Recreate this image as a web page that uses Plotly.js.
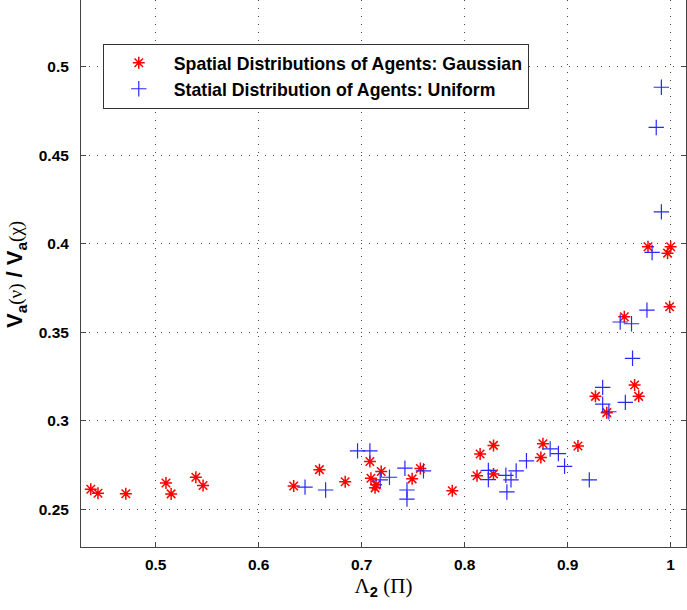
<!DOCTYPE html>
<html>
<head>
<meta charset="utf-8">
<script src="https://cdn.plot.ly/plotly-3.0.1.min.js"></script>
<style>html,body{margin:0;padding:0;background:#fff;}#plot{width:687px;height:610px;}</style>
</head>
<body>
<div id="plot"></div>
<script>
// Gaussian spatial distribution (red asterisks)
const gaussX = [0.437, 0.444, 0.471, 0.510, 0.515, 0.539, 0.546, 0.634, 0.659, 0.684, 0.708, 0.709, 0.714, 0.713, 0.719, 0.749, 0.757, 0.788, 0.815, 0.812, 0.828, 0.828, 0.876, 0.874, 0.910, 0.927, 0.938, 0.955, 0.965, 0.969, 0.978, 0.997, 1.000, 0.999];
const gaussY = [0.2613, 0.2591, 0.2588, 0.2649, 0.2587, 0.2681, 0.2634, 0.2632, 0.2724, 0.2656, 0.2770, 0.2675, 0.2638, 0.2621, 0.2713, 0.2672, 0.2730, 0.2605, 0.2812, 0.2689, 0.2861, 0.2700, 0.2870, 0.2793, 0.2858, 0.3138, 0.3046, 0.3588, 0.3202, 0.3138, 0.3983, 0.3947, 0.3983, 0.3644];
// Uniform spatial distribution (blue pluses)
const unifX = [0.645, 0.665, 0.696, 0.708, 0.718, 0.727, 0.742, 0.744, 0.744, 0.760, 0.823, 0.823, 0.840, 0.845, 0.841, 0.850, 0.860, 0.883, 0.891, 0.897, 0.921, 0.934, 0.934, 0.940, 0.956, 0.951, 0.962, 0.963, 0.977, 0.982, 0.991, 0.986, 0.991];
const unifY = [0.2625, 0.2609, 0.2830, 0.2830, 0.2666, 0.2681, 0.2732, 0.2609, 0.2558, 0.2717, 0.2720, 0.2668, 0.2692, 0.2666, 0.2598, 0.2717, 0.2774, 0.2841, 0.2815, 0.2743, 0.2666, 0.3189, 0.3094, 0.3051, 0.3104, 0.3558, 0.3548, 0.3353, 0.3625, 0.3951, 0.4180, 0.4657, 0.4884];
const seriesNames = ["Spatial Distributions of Agents: Gaussian", "Statial Distribution of Agents: Uniform"];
const xTickVals = [0.5, 0.6, 0.7, 0.8, 0.9, 1.0];
const xTickText = ["0.5", "0.6", "0.7", "0.8", "0.9", "1"];
const yTickVals = [0.25, 0.3, 0.35, 0.4, 0.45, 0.5];
const yTickText = ["0.25", "0.3", "0.35", "0.4", "0.45", "0.5"];

const bold = t => '<b>' + t + '</b>';
const traces = [
  {x: gaussX, y: gaussY, type: 'scatter', mode: 'markers', name: bold(seriesNames[0]),
   marker: {symbol: 'asterisk-open', size: 10, color: '#ff0000', line: {color: '#ff0000', width: 1.5}}},
  {x: unifX, y: unifY, type: 'scatter', mode: 'markers', name: bold(seriesNames[1]),
   marker: {symbol: 'cross-thin-open', size: 11, color: '#2828ff', line: {color: '#2828ff', width: 1.2}}}
];

const SANS = "'Liberation Sans', Arial, sans-serif";
const TNR = "'Liberation Serif','DejaVu Serif',serif";
const G = s => "<span style='font-family:Liberation Serif;font-size:19px;font-weight:normal'>" + s + "</span>";
const layout = {
  width: 687, height: 610,
  margin: {l: 81, r: 1, t: 0, b: 63},
  paper_bgcolor: '#ffffff', plot_bgcolor: '#ffffff',
  font: {family: SANS, color: '#000', size: 16},
  showlegend: true,
  legend: {x: 0.036, y: 0.92, xanchor: 'left', yanchor: 'top',
    bgcolor: '#ffffff', bordercolor: '#333', borderwidth: 1,
    font: {size: 17.7, family: SANS, color: '#000'},
    itemwidth: 60, tracegroupgap: 0},
  xaxis: {
    range: [0.4275, 1.0149], tickvals: xTickVals, ticktext: xTickText.map(bold),
    ticks: 'inside', ticklen: 5, tickcolor: '#444', showline: true, linecolor: '#444', linewidth: 1, mirror: false,
    showgrid: true, gridcolor: '#444', griddash: '1px,7px', gridwidth: 1, zeroline: false,
    tickfont: {size: 15.5, family: SANS}, ticklabelstandoff: 3,
    title: {text: "Λ<sub><span style='font-family:Liberation Sans;font-weight:bold'>2</span></sub> (Π)", font: {family: TNR, size: 21}, standoff: 6}
  },
  yaxis: {
    range: [0.2287, 0.5377], tickvals: yTickVals, ticktext: yTickText.map(bold),
    ticks: 'inside', ticklen: 5, tickcolor: '#444', showline: true, linecolor: '#444', linewidth: 1, mirror: 'ticks',
    showgrid: true, gridcolor: '#444', griddash: '1px,7px', gridwidth: 1, zeroline: false,
    tickfont: {size: 15.5, family: SANS}, ticklabelstandoff: 8,
    title: {text: ''}
  },
  annotations: [{
    xref: 'paper', yref: 'paper', x: -0.1074, y: 0.4973, xanchor: 'center', yanchor: 'middle',
    textangle: -90, showarrow: false,
    text: "<b>V<sub>a</sub></b>" + G("(ν)") + "<b> / V<sub>a</sub></b>" + G("(χ)"),
    font: {family: SANS, size: 22, color: '#000'}
  }]
};

Plotly.newPlot('plot', traces, layout, {displayModeBar: false, staticPlot: true});
</script>
</body>
</html>
